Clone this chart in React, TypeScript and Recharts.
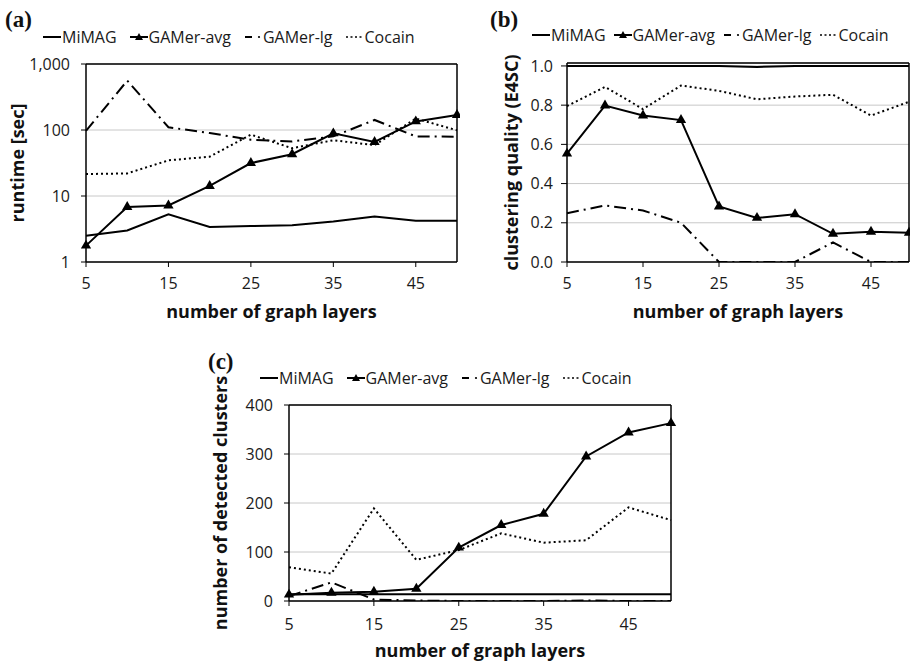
import React from "react";
import {
  LineChart,
  Line,
  XAxis,
  YAxis,
  CartesianGrid,
  ReferenceLine,
  Legend,
  Symbols,
} from "recharts";

const layers = [5, 10, 15, 20, 25, 30, 35, 40, 45, 50];
const xTicks = [5, 15, 25, 35, 45];
const seriesNames = ["MiMAG", "GAMer-avg", "GAMer-lg", "Cocain"];

// (a) runtime [sec], log scale
const runtimeMiMAG = [2.5, 3.0, 5.3, 3.4, 3.5, 3.6, 4.1, 4.9, 4.2, 4.2];
const runtimeGamerAvg = [1.77, 6.8, 7.2, 14.2, 31.6, 43, 89, 66, 135, 169];
const runtimeGamerLg = [97, 559, 110, 90, 71, 67, 80, 142, 80, 79];
const runtimeCocain = [21.5, 22, 34.7, 39.4, 85, 53, 70, 59, 149, 99];
const runtimeTicks = [1, 10, 100, 1000];

// (b) clustering quality (E4SC)
const qualityMiMAG = [1.0, 1.0, 1.0, 1.0, 1.0, 0.995, 1.0, 1.0, 1.0, 1.0];
const qualityGamerAvg = [0.553, 0.798, 0.747, 0.724, 0.283, 0.225, 0.244, 0.144, 0.154, 0.149];
const qualityGamerLg = [0.249, 0.288, 0.263, 0.2, 0, 0, 0, 0.1, 0, 0];
const qualityCocain = [0.795, 0.893, 0.78, 0.9, 0.873, 0.83, 0.844, 0.853, 0.747, 0.817];
const qualityTicks = [0, 0.2, 0.4, 0.6, 0.8, 1.0];

// (c) number of detected clusters
const clustersMiMAG = [14, 14, 14, 14, 14, 14, 14, 14, 14, 14];
const clustersGamerAvg = [13, 17, 19, 25, 109, 155, 178, 295, 344, 363];
const clustersGamerLg = [10, 38, 3, 1, 0, 0, 0, 1, 0, 0];
const clustersCocain = [69, 56, 189, 84, 104, 138, 119, 124, 191, 165];
const clustersTicks = [0, 100, 200, 300, 400];

const toRows = (a: number[], b: number[], c: number[], d: number[]) =>
  layers.map((n, i) => ({
    layers: n,
    MiMAG: a[i],
    "GAMer-avg": b[i],
    "GAMer-lg": c[i],
    Cocain: d[i],
  }));

const runtimeData = toRows(runtimeMiMAG, runtimeGamerAvg, runtimeGamerLg, runtimeCocain);
const qualityData = toRows(qualityMiMAG, qualityGamerAvg, qualityGamerLg, qualityCocain);
const clustersData = toRows(clustersMiMAG, clustersGamerAvg, clustersGamerLg, clustersCocain);

const FONT = "'Open Sans', sans-serif";
const tickStyle = { fill: "#1a1a1a", fontSize: 16, fontFamily: FONT };
const labelStyle = { fill: "#111", fontSize: 18, fontWeight: 700, fontFamily: FONT };
const axisLine = { stroke: "#000", strokeWidth: 1.5 };

const Triangle = (props: any) => {
  const { cx, cy, index } = props;
  if (cx == null || cy == null) return <g key={`t-${index}`} />;
  return (
    <Symbols key={`t-${index}`} cx={cx} cy={cy} type="triangle" size={46} fill="#000" stroke="none" />
  );
};

const LegendIcon = ({ name }: { name: string }) => (
  <svg width={18} height={10} style={{ display: "block" }}>
    {name === "MiMAG" && <line x1={0} x2={18} y1={5} y2={5} stroke="#000" strokeWidth={2} />}
    {name === "GAMer-avg" && (
      <>
        <line x1={0} x2={18} y1={5} y2={5} stroke="#000" strokeWidth={2} />
        <polygon points="9,1 13,8 5,8" fill="#000" />
      </>
    )}
    {name === "GAMer-lg" && (
      <>
        <line x1={1} x2={8} y1={5} y2={5} stroke="#000" strokeWidth={2} />
        <circle cx={15} cy={5} r={1.1} fill="#000" />
      </>
    )}
    {name === "Cocain" && (
      <line x1={0} x2={17} y1={5} y2={5} stroke="#000" strokeWidth={1.6} strokeDasharray="2 2.5" />
    )}
  </svg>
);

// keep the series order of the original legend (recharts sorts by name otherwise)
const makeLegend = (gap: number) => (props: any) => {
  const names = (props.payload || []).map((p: any) => p.value);
  const ordered = seriesNames.filter((n) => names.includes(n));
  return (
    <div style={{ display: "flex", alignItems: "center", fontFamily: FONT, fontSize: 16, color: "#1a1a1a", whiteSpace: "nowrap", lineHeight: "22px" }}>
      {ordered.map((name, i) => (
        <div key={name} style={{ display: "flex", alignItems: "center", marginLeft: i === 0 ? 0 : gap }}>
          <LegendIcon name={name} />
          <span style={{ marginLeft: 1 }}>{name}</span>
        </div>
      ))}
    </div>
  );
};

const seriesLines = () => [
  <Line key="m" dataKey="MiMAG" stroke="#000" strokeWidth={2} dot={false} isAnimationActive={false} />,
  <Line key="a" dataKey="GAMer-avg" stroke="#000" strokeWidth={2} dot={Triangle} activeDot={false} isAnimationActive={false} />,
  <Line key="l" dataKey="GAMer-lg" stroke="#000" strokeWidth={2} strokeDasharray="12 5 2 5" dot={false} isAnimationActive={false} />,
  <Line key="c" dataKey="Cocain" stroke="#000" strokeWidth={2} strokeDasharray="2 3" dot={false} isAnimationActive={false} />,
];

const titleStyle: React.CSSProperties = {
  position: "absolute",
  fontFamily: "'Liberation Serif', serif",
  fontWeight: 700,
  fontSize: 23,
  lineHeight: 1,
  color: "#111",
};

export default function App() {
  return (
    <div style={{ position: "absolute", left: 0, top: 0, width: 910, height: 663, background: "#fff", overflow: "hidden" }}>
      <div style={{ ...titleStyle, left: 5, top: 8 }}>(a)</div>
      <div style={{ ...titleStyle, left: 490, top: 8 }}>(b)</div>
      <div style={{ ...titleStyle, left: 208, top: 350 }}>(c)</div>

      <div style={{ position: "absolute", left: 0, top: 0 }}>
        <LineChart width={460} height={330} data={runtimeData} margin={{ top: 64, right: 3, bottom: 8, left: 0 }}>
          <CartesianGrid vertical={false} stroke="#c8c8c8" />
          <XAxis
            dataKey="layers"
            type="number"
            domain={[5, 50]}
            ticks={xTicks}
            height={60}
            tickSize={5}
            tickMargin={11}
            axisLine={axisLine}
            tickLine={{ stroke: "#000" }}
            tick={tickStyle}
            label={{ value: "number of graph layers", position: "insideBottom", offset: 4, ...labelStyle }}
          />
          <YAxis
            scale="log"
            type="number"
            domain={[1, 1000]}
            ticks={runtimeTicks}
            allowDataOverflow
            width={86}
            tickSize={5}
            tickMargin={11}
            axisLine={axisLine}
            tickLine={{ stroke: "#000" }}
            tick={tickStyle}
            tickFormatter={(v: number) => v.toLocaleString("en-US")}
            label={{ value: "runtime [sec]", angle: -90, position: "insideLeft", offset: 18, ...labelStyle, style: { textAnchor: "middle" } }}
          />
          <ReferenceLine y={1000} stroke="#000" strokeWidth={1.5} />
          <ReferenceLine x={50} stroke="#000" strokeWidth={1.5} />
          <Legend layout="horizontal" verticalAlign="middle" align="center" content={makeLegend(13)} wrapperStyle={{ top: 26, left: 43, width: "auto", height: "auto" }} />
          {seriesLines()}
        </LineChart>
      </div>

      <div style={{ position: "absolute", left: 460, top: 0 }}>
        <LineChart width={450} height={330} data={qualityData} margin={{ top: 63, right: 1, bottom: 8, left: 0 }}>
          <CartesianGrid vertical={false} stroke="#c8c8c8" />
          <XAxis
            dataKey="layers"
            type="number"
            domain={[5, 50]}
            ticks={xTicks}
            height={60}
            tickSize={5}
            tickMargin={11}
            axisLine={axisLine}
            tickLine={{ stroke: "#000" }}
            tick={tickStyle}
            label={{ value: "number of graph layers", position: "insideBottom", offset: 4, ...labelStyle }}
          />
          <YAxis
            type="number"
            domain={[0, 1.015]}
            ticks={qualityTicks}
            allowDataOverflow
            width={107}
            tickSize={6}
            tickMargin={8}
            axisLine={axisLine}
            tickLine={{ stroke: "#000" }}
            tick={tickStyle}
            tickFormatter={(v: number) => v.toFixed(1)}
            label={{ value: "clustering quality (E4SC)", angle: -90, position: "insideLeft", offset: 52, ...labelStyle, style: { textAnchor: "middle" } }}
          />
          <ReferenceLine y={1.015} stroke="#000" strokeWidth={1.5} />
          <ReferenceLine x={50} stroke="#000" strokeWidth={1.5} />
          <Legend layout="horizontal" verticalAlign="middle" align="center" content={makeLegend(8)} wrapperStyle={{ top: 24, left: 72, width: "auto", height: "auto" }} />
          {seriesLines()}
        </LineChart>
      </div>

      <div style={{ position: "absolute", left: 190, top: 330 }}>
        <LineChart width={490} height={333} data={clustersData} margin={{ top: 75, right: 9, bottom: 4, left: 0 }}>
          <CartesianGrid vertical={false} stroke="#c8c8c8" />
          <XAxis
            dataKey="layers"
            type="number"
            domain={[5, 50]}
            ticks={xTicks}
            height={58}
            tickSize={5}
            tickMargin={13}
            axisLine={axisLine}
            tickLine={{ stroke: "#000" }}
            tick={tickStyle}
            label={{ value: "number of graph layers", position: "insideBottom", offset: 2, ...labelStyle }}
          />
          <YAxis
            type="number"
            domain={[0, 400]}
            ticks={clustersTicks}
            allowDataOverflow
            width={99}
            tickSize={5}
            tickMargin={11}
            axisLine={axisLine}
            tickLine={{ stroke: "#000" }}
            tick={tickStyle}
            label={{ value: "number of detected clusters", angle: -90, position: "insideLeft", offset: 31, ...labelStyle, style: { textAnchor: "middle" } }}
          />
          <ReferenceLine y={400} stroke="#000" strokeWidth={1.5} />
          <ReferenceLine x={50} stroke="#000" strokeWidth={1.5} />
          <Legend layout="horizontal" verticalAlign="middle" align="center" content={makeLegend(13)} wrapperStyle={{ top: 37, left: 70, width: "auto", height: "auto" }} />
          {seriesLines()}
        </LineChart>
      </div>
    </div>
  );
}
